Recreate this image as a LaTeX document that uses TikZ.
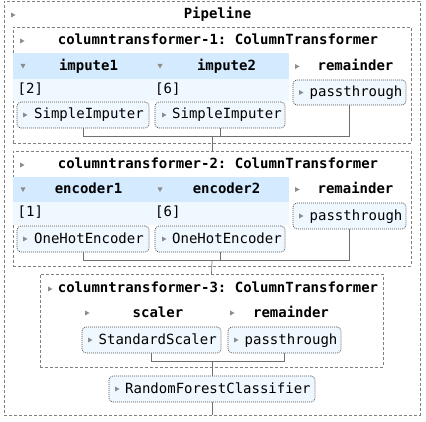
\documentclass[tikz,border=0pt]{standalone}
\usepackage{fontspec}
\setmonofont{DejaVu Sans Mono}
\definecolor{hdr}{HTML}{D4EBFF}
\definecolor{pale}{HTML}{F0F8FF}
\definecolor{dashc}{HTML}{808080}
\definecolor{linec}{HTML}{707070}
\definecolor{tric}{HTML}{8C8C8C}
\newcommand{\rtri}[2]{\fill[tric] (#1-2,#2-2.5) -- (#1+2.5,#2) -- (#1-2,#2+2.5) -- cycle;}
\newcommand{\dtri}[2]{\fill[tric] (#1-2.5,#2-2) -- (#1+2.5,#2-2) -- (#1,#2+2.5) -- cycle;}
\begin{document}
\begin{tikzpicture}[x=1pt,y=-1pt,
  cont/.style={draw=dashc, dash pattern=on 3pt off 2pt, line width=0.7pt, anchor=north west, inner sep=0pt, outer sep=0pt},
  est/.style={draw=black!70, dash pattern=on 1pt off 1pt, line width=0.7pt, rounded corners=4pt, fill=pale, anchor=north west, inner sep=0pt, outer sep=0pt},
  band/.style={fill=hdr, anchor=north west, inner sep=0pt, outer sep=0pt},
  paleband/.style={fill=pale, anchor=north west, inner sep=0pt, outer sep=0pt},
  txt/.style={font=\fontsize{14}{16}\selectfont\ttfamily, anchor=base west, inner sep=0pt},
  ttl/.style={font=\fontsize{14}{16}\selectfont\ttfamily\bfseries, anchor=base, inner sep=0pt},
  conn/.style={draw=linec, line width=0.7pt}
]
\useasboundingbox[fill=white] (0,0) rectangle (426,422);

% containers
\node[cont, minimum width=416pt, minimum height=414pt] (outer) at (4,1) {};
\node[cont, minimum width=398pt, minimum height=116pt] (ct1) at (13,27) {};
\node[cont, minimum width=398pt, minimum height=115pt] (ct2) at (13,151) {};
\node[cont, minimum width=343pt, minimum height=93pt] (ct3) at (40,274) {};

% header bands
\node[band, minimum width=276pt, minimum height=26pt] (hb1) at (13,53) {};
\node[paleband, minimum width=276pt, minimum height=22pt] (pb1) at (13,79) {};
\node[band, minimum width=276pt, minimum height=25pt] (hb2) at (13,177) {};
\node[paleband, minimum width=276pt, minimum height=23pt] (pb2) at (13,202) {};

% estimator boxes
\node[est, minimum width=132pt, minimum height=26pt] (si1) at (17,102) {};
\node[est, minimum width=130pt, minimum height=26pt] (si2) at (155,102) {};
\node[est, minimum width=113pt, minimum height=25pt] (pt1) at (293,80) {};
\node[est, minimum width=132pt, minimum height=26pt] (oh1) at (17,226) {};
\node[est, minimum width=130pt, minimum height=26pt] (oh2) at (155,226) {};
\node[est, minimum width=113pt, minimum height=26pt] (pt2) at (293,203) {};
\node[est, minimum width=139pt, minimum height=26pt] (ss) at (82,327) {};
\node[est, minimum width=113pt, minimum height=26pt] (pt3) at (228,327) {};
\node[est, minimum width=206pt, minimum height=26pt] (rf) at (109,376) {};

% connectors
\coordinate (h1) at (212,136);
\coordinate (h2) at (212,260.5);
\coordinate (h3) at (212,361);
\draw[conn] (si1.south) -- (si1.south |- h1) -| (pt1.south);
\draw[conn] (si2.south) -- (si2.south |- h1);
\draw[conn] (h1) -- (ct2.north);
\draw[conn] (oh1.south) -- (oh1.south |- h2) -| (pt2.south);
\draw[conn] (oh2.south) -- (oh2.south |- h2);
\draw[conn] (h2) -- (ct3.north);
\draw[conn] (ss.south) -- (ss.south |- h3) -| (pt3.south);
\draw[conn] (h3) -- (rf.north);
\draw[conn] (rf.south) -- (rf.south |- outer.south);

% titles
\node[ttl] (tpipe) at (217.5,19) {Pipeline};
\node[ttl] (tct1) at (218,45) {columntransformer-1: ColumnTransformer};
\node[ttl] (tct2) at (218,169) {columntransformer-2: ColumnTransformer};
\node[ttl] (tct3) at (218,293) {columntransformer-3: ColumnTransformer};

% headers
\node[ttl] (himp1) at (88.5,71) {impute1};
\node[ttl] (himp2) at (226.5,71) {impute2};
\node[ttl] (hrem1) at (355.5,71) {remainder};
\node[ttl] (henc1) at (88.5,194) {encoder1};
\node[ttl] (henc2) at (226.5,194) {encoder2};
\node[ttl] (hrem2) at (355.5,194) {remainder};
\node[ttl] (hsc) at (158,318) {scaler};
\node[ttl] (hrem3) at (291,318) {remainder};

% column lists
\node[txt] (c1) at (17.5,93.5) {[2]};
\node[txt] (c2) at (155,93.5) {[6]};
\node[txt] (c3) at (17.5,217) {[1]};
\node[txt] (c4) at (155,217) {[6]};

% estimator labels
\node[txt] (lsi1) at (34,119) {SimpleImputer};
\node[txt] (lsi2) at (172,119) {SimpleImputer};
\node[txt] (lpt1) at (309.5,97) {passthrough};
\node[txt] (loh1) at (34,243.5) {OneHotEncoder};
\node[txt] (loh2) at (172,243.5) {OneHotEncoder};
\node[txt] (lpt2) at (309.5,220.5) {passthrough};
\node[txt] (lss) at (98.5,344.5) {StandardScaler};
\node[txt] (lpt3) at (244.5,344.5) {passthrough};
\node[txt] (lrf) at (125,393.5) {RandomForestClassifier};

% triangles
\rtri{13}{15}
\rtri{22}{41}
\rtri{22}{165}
\rtri{50}{289}
\dtri{23}{66}
\dtri{160}{66}
\rtri{297}{66.5}
\dtri{23}{189.5}
\dtri{160}{189.5}
\rtri{297}{189.5}
\rtri{87}{313}
\rtri{232}{313}
\rtri{25}{115}
\rtri{164}{115}
\rtri{301}{92.5}
\rtri{25}{239}
\rtri{164}{239}
\rtri{301}{216}
\rtri{90}{340}
\rtri{236}{340}
\rtri{117}{389}
\end{tikzpicture}
\end{document}
